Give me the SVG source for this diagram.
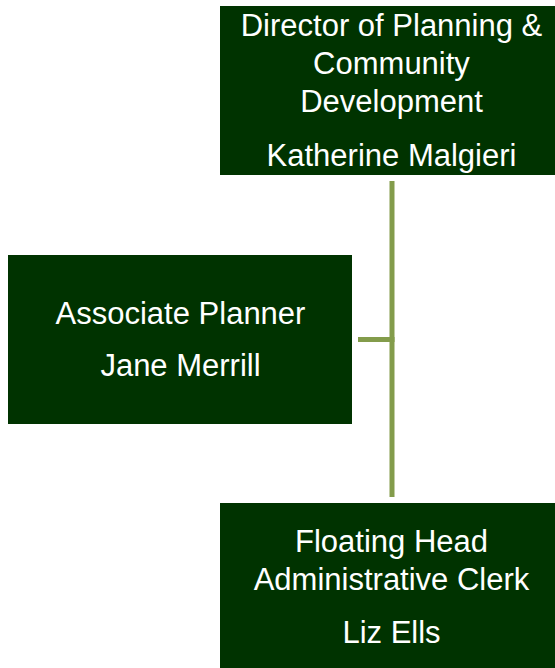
<svg xmlns="http://www.w3.org/2000/svg" width="555" height="668" viewBox="0 0 555 668">
<style>
.box{fill:#003300}
.t{fill:#ffffff;font-family:"Liberation Sans",Arial,sans-serif;font-size:31px;text-anchor:middle}
.c{stroke:#839C4B;stroke-width:5;fill:none}
</style>
<rect width="555" height="668" fill="#ffffff"/>
<g id="connectors">
<line class="c" x1="392" y1="181" x2="392" y2="497"/>
<line class="c" x1="358" y1="339.5" x2="394.5" y2="339.5"/>
</g>
<g id="director">
<rect class="box" x="220" y="6" width="344" height="169"/>
<text class="t" x="391.5" y="36">Director of Planning &amp;</text>
<text class="t" x="391.5" y="74">Community</text>
<text class="t" x="391.5" y="112">Development</text>
<text class="t" x="391.5" y="166">Katherine Malgieri</text>
</g>
<g id="associate">
<rect class="box" x="8" y="255" width="344" height="169"/>
<text class="t" x="180.5" y="324">Associate Planner</text>
<text class="t" x="180.5" y="376">Jane Merrill</text>
</g>
<g id="clerk">
<rect class="box" x="220" y="503" width="344" height="169"/>
<text class="t" x="391.5" y="552">Floating Head</text>
<text class="t" x="391.5" y="590">Administrative Clerk</text>
<text class="t" x="391.5" y="643">Liz Ells</text>
</g>
</svg>
